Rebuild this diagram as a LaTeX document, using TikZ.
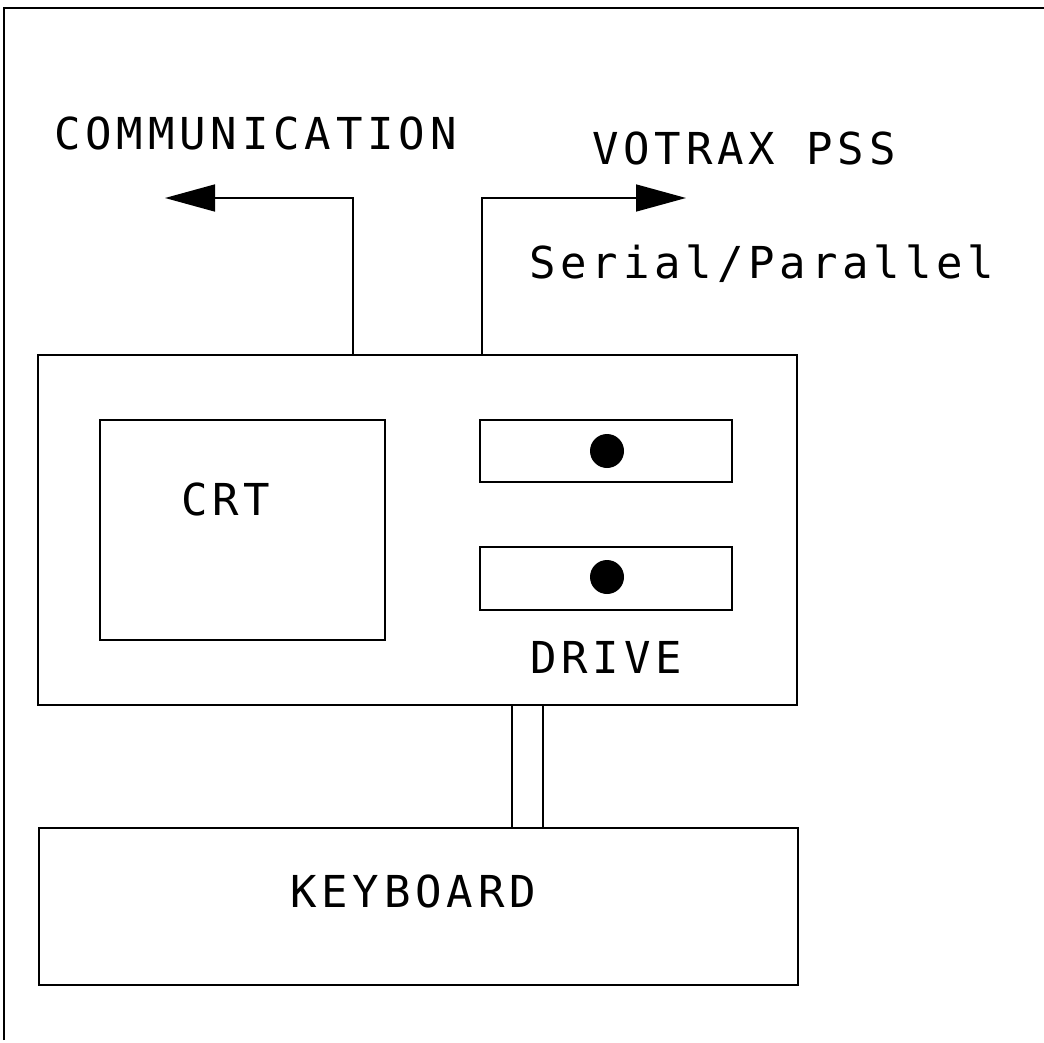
\documentclass[tikz,border=0pt]{standalone}
\usepackage{fontspec}
\newfontfamily\plotfont{DejaVu Sans Mono}[LetterSpace=11]
\usetikzlibrary{arrows.meta}
\begin{document}
\begin{tikzpicture}[x=1pt,y=-1pt,
  box/.style={draw,line width=2pt,inner sep=0pt,rectangle},
  lbl/.style={inner sep=0pt,anchor=base west,font=\plotfont\fontsize{44}{48}\selectfont},
  wire/.style={line width=1.6pt},
  bigtip/.style={-{Triangle[length=50pt,width=27pt]}}]
\useasboundingbox (0,0) rectangle (1044,1043);
% frame
\draw[line width=2pt] (4,1040) -- (4,8) -- (1044,8);
% boxes
\node[box,minimum width=759pt,minimum height=350pt] (main) at (417.5,530) {};
\node[box,minimum width=285pt,minimum height=220pt] (crt) at (242.5,530) {};
\node[box,minimum width=252pt,minimum height=62pt] (drv1) at (606,451) {};
\node[box,minimum width=252pt,minimum height=63pt] (drv2) at (606,578.5) {};
\node[box,minimum width=759pt,minimum height=157pt] (kbd) at (418.5,906.5) {};
% drive dots
\fill (607,451) circle (17pt);
\fill (607,577) circle (17pt);
% labels
\node[lbl] (tcomm) at (54,150) {COMMUNICATION};
\node[lbl] (tvot) at (592,165) {VOTRAX PSS};
\node[lbl] (tser) at (529,278) {Serial/Parallel};
\node[lbl] (tcrt) at (181,515) {CRT};
\node[lbl] (tdrv) at (530,673) {DRIVE};
\node[lbl] (tkbd) at (290,907) {KEYBOARD};
% arrows
\coordinate (commtip) at (165,198);
\coordinate (vottip) at (686,198);
\draw[wire,bigtip] (353,0 |- main.north) |- (commtip);
\draw[wire,bigtip] (482,0 |- main.north) |- (vottip);
% double link to keyboard
\draw[wire] (512,0 |- main.south) -- (512,0 |- kbd.north);
\draw[wire] (543,0 |- main.south) -- (543,0 |- kbd.north);
\end{tikzpicture}
\end{document}
